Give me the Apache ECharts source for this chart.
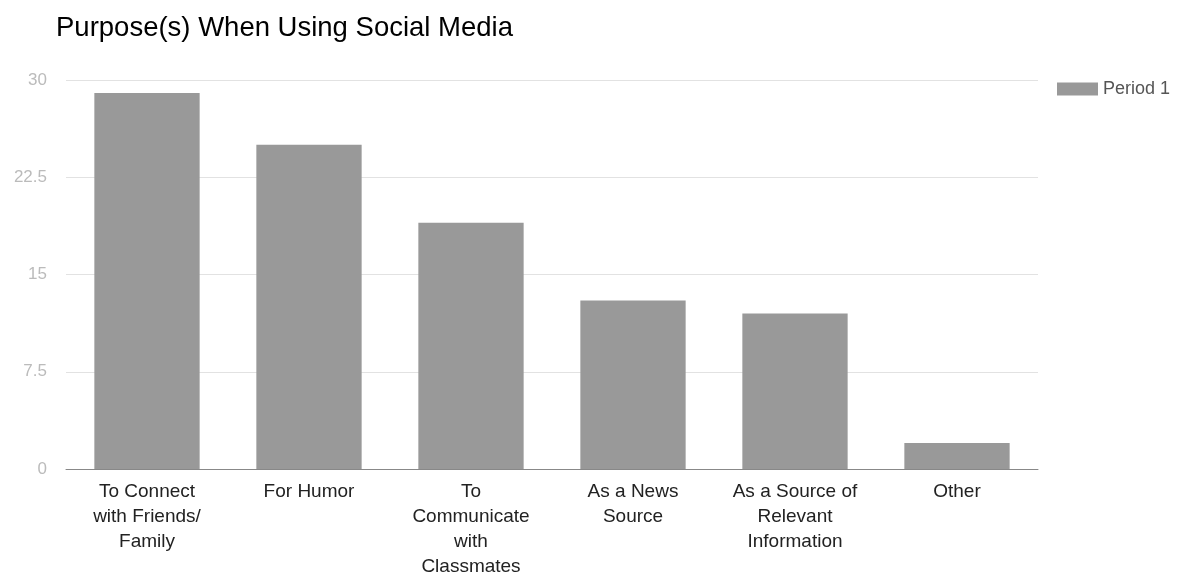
<!DOCTYPE html>
<html>
<head>
<meta charset="utf-8">
<script src="https://cdn.jsdelivr.net/npm/echarts@6/dist/echarts.min.js"></script>
<style>
  html, body { margin: 0; padding: 0; background: #fff; }
  #chart { width: 1177px; height: 575px; }
</style>
</head>
<body>
<div id="chart"></div>
<script>
// categories (line breaks as in the picture)
var categories = [
    'To Connect\nwith Friends/\nFamily',
    'For Humor',
    'To\nCommunicate\nwith\nClassmates',
    'As a News\nSource',
    'As a Source of\nRelevant\nInformation',
    'Other'
];
var period1 = [29, 25, 19, 13, 12, 2];
var yTicks = [0, 7.5, 15, 22.5, 30];

var myChart = echarts.init(document.getElementById('chart'));

var option = {
    animation: false,
    textStyle: { fontFamily: 'Liberation Sans, Arial, sans-serif' },
    title: {
        text: 'Purpose(s) When Using Social Media',
        left: 51,
        top: 9,
        textStyle: { fontSize: 27.5, fontWeight: 'normal', color: '#000' }
    },
    legend: {
        data: ['Period 1'],
        left: 1057,
        top: 80,
        padding: 0,
        icon: 'rect',
        itemWidth: 41,
        itemHeight: 13,
        itemGap: 6,
        textStyle: { color: '#555', fontSize: 18 }
    },
    grid: {
        left: 66,
        right: 139,
        top: 80,
        bottom: 106,
        outerBoundsMode: 'none'
    },
    xAxis: {
        type: 'category',
        data: categories,
        axisTick: { show: false },
        axisLine: { lineStyle: { color: '#888' } },
        axisLabel: {
            color: '#222',
            fontSize: 19,
            lineHeight: 25,
            margin: 10,
            interval: 0
        }
    },
    yAxis: {
        type: 'value',
        min: yTicks[0],
        max: yTicks[yTicks.length - 1],
        interval: 7.5,
        axisLine: { show: false },
        axisTick: { show: false },
        splitLine: { lineStyle: { color: '#e2e2e2' } },
        axisLabel: { color: '#bbb', fontSize: 17, margin: 19 }
    },
    series: [
        {
            name: 'Period 1',
            type: 'bar',
            barWidth: '65%',
            data: period1,
            itemStyle: { color: '#999999' }
        }
    ]
};

myChart.setOption(option);
</script>
</body>
</html>
